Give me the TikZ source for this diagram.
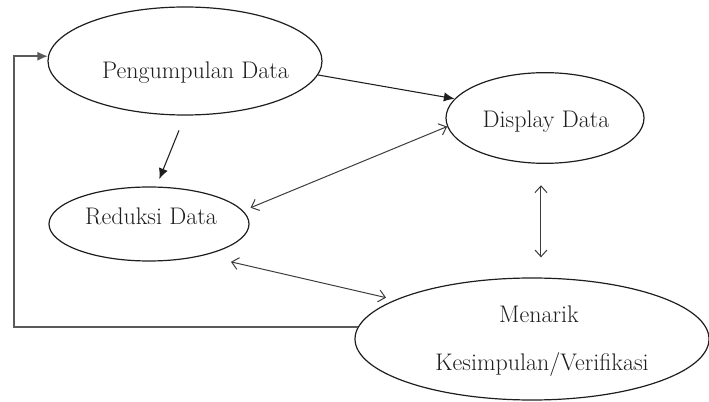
\documentclass[tikz,border=0pt]{standalone}
\usepackage{tikz}
\usepackage{xcolor}
\usetikzlibrary{positioning, arrows.meta, shapes.geometric}
\definecolor{inkgray}{RGB}{30, 30, 30}
\definecolor{linegray}{RGB}{60, 60, 60}
\definecolor{loopgray}{RGB}{90, 90, 90}
\tikzset{
    oval/.style={ellipse, draw=inkgray, line width=0.9pt, inner sep=0pt},
    lbl/.style={font=\fontsize{18}{22}\selectfont, text=inkgray, anchor=base, inner sep=0pt},
    flow/.style={draw=inkgray, line width=0.8pt, -{Latex[length=8pt, width=7pt]}},
    both/.style={draw=linegray, line width=0.75pt, {Straight Barb[length=5pt, width=9pt]}-{Straight Barb[length=5pt, width=9pt]}},
    back/.style={draw=loopgray, line width=1.2pt, -{Latex[length=8pt, width=7pt]}}
}

\begin{document}
\begin{tikzpicture}[x=0.75pt, y=-0.75pt]
    \useasboundingbox (0,0) rectangle (709,402);
    % ellipses
    \node[oval, minimum width=205.5pt, minimum height=81pt] (pd) at (185,61) {};
    \node[oval, minimum width=148.5pt, minimum height=68pt] (dd) at (545,118) {};
    \node[oval, minimum width=150pt, minimum height=55.5pt] (rd) at (149,224) {};
    \node[oval, minimum width=265.5pt, minimum height=91.5pt] (mk) at (532,339) {};
    % texts
    \node[lbl] (pdtext) at (195.5,79) {Pengumpulan Data};
    \node[lbl] (ddtext) at (546,128) {Display Data};
    \node[lbl] (rdtext) at (151,225) {Reduksi Data};
    \node[lbl] (mktop) at (539,322) {Menarik};
    \node[lbl] (mkbot) at (542,370) {Kesimpulan/Verifikasi};
    % connectors
    \draw[flow] (pd.-6) -- (dd.168);
    \draw[flow, shorten <=12pt, shorten >=6pt] (pd.south) -- (rd.79);
    \draw[both, shorten >=6pt] (dd.185) -- (rd.8);
    \draw[both, shorten <=16pt, shorten >=15pt] (dd.-95) -- (dd.-95 |- mk.north);
    \draw[both, shorten <=21pt, shorten >=7pt] (rd.-30) -- (mk.164);
    % feedback loop
    \coordinate (fbx) at (14,0);
    \draw[back] (mk.176) -- (mk.176 -| fbx) |- (pd.178);
\end{tikzpicture}
\end{document}
